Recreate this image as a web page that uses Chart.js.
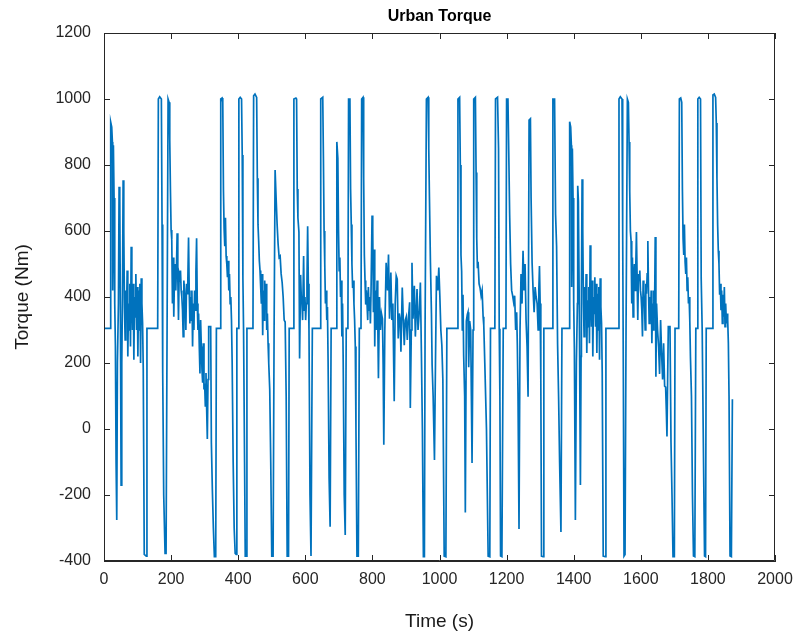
<!DOCTYPE html>
<html>
<head>
<meta charset="utf-8">
<title>Urban Torque</title>
<script src="https://cdn.jsdelivr.net/npm/chart.js@4.4.1/dist/chart.umd.min.js"></script>
<style>
  html, body { margin: 0; padding: 0; background: #fff; }
  #wrap { width: 799px; height: 639px; }
</style>
</head>
<body>
<div id="wrap"><canvas id="torqueChart" width="799" height="639"></canvas></div>
<script>
// time axis (s) and torque (Nm)
const timeSec = [
  0, 18, 20, 23, 25, 26, 28, 30, 32, 34,
  36, 38, 40, 43, 45, 47, 49, 51, 53, 55,
  57, 59, 61, 63, 65, 67, 69, 71, 73, 75,
  77, 79, 81, 83, 85, 87, 89, 91, 93, 95,
  97, 99, 101, 103, 105, 107, 109, 111, 113, 115,
  117, 120, 126, 128, 160, 162, 166, 171, 173, 175,
  178, 182, 185, 188, 191, 194, 196, 198, 200, 202,
  204, 206, 208, 210, 212, 214, 216, 218, 220, 222,
  224, 226, 228, 230, 232, 234, 236, 238, 240, 242,
  244, 246, 248, 250, 252, 254, 256, 258, 260, 262,
  264, 266, 268, 270, 272, 274, 276, 278, 280, 282,
  284, 286, 288, 290, 292, 294, 296, 298, 300, 302,
  304, 306, 308, 310, 312, 318, 320, 323, 326, 329,
  333, 335, 346, 348, 352, 354, 356, 358, 360, 362,
  364, 366, 368, 370, 372, 374, 376, 378, 380, 382,
  385, 388, 391, 394, 396, 400, 402, 406, 410, 412,
  414, 416, 419, 421, 424, 426, 444, 446, 450, 455,
  457, 459, 461, 463, 465, 467, 469, 471, 473, 475,
  477, 479, 481, 483, 485, 487, 489, 491, 494, 497,
  500, 504, 507, 510, 513, 516, 519, 522, 525, 528,
  531, 534, 537, 540, 543, 546, 550, 552, 564, 566,
  572, 574, 576, 578, 581, 583, 586, 588, 590, 592,
  595, 597, 599, 601, 603, 605, 607, 609, 611, 614,
  617, 619, 621, 644, 646, 652, 654, 656, 658, 660,
  662, 664, 666, 668, 671, 674, 677, 692, 694, 697,
  699, 701, 703, 705, 707, 709, 711, 713, 716, 719,
  722, 727, 729, 733, 735, 737, 739, 741, 743, 745,
  747, 749, 751, 754, 758, 761, 766, 768, 772, 774,
  776, 778, 780, 782, 784, 786, 788, 790, 792, 794,
  796, 799, 801, 803, 805, 807, 809, 811, 814, 816,
  818, 821, 824, 827, 830, 832, 834, 837, 841, 845,
  848, 851, 855, 858, 861, 865, 868, 871, 874, 877,
  880, 883, 885, 889, 892, 895, 898, 901, 904, 907,
  911, 913, 916, 918, 921, 925, 928, 933, 936, 940,
  943, 946, 949, 952, 955, 957, 959, 961, 966, 968,
  970, 973, 976, 978, 981, 985, 988, 991, 995, 998,
  1001, 1004, 1007, 1010, 1014, 1019, 1022, 1053, 1055, 1060,
  1062, 1064, 1066, 1068, 1070, 1072, 1075, 1077, 1080, 1083,
  1085, 1087, 1090, 1093, 1095, 1097, 1100, 1102, 1107, 1109,
  1111, 1113, 1115, 1118, 1121, 1124, 1127, 1130, 1132, 1135,
  1140, 1145, 1150, 1152, 1165, 1167, 1173, 1176, 1178, 1180,
  1182, 1186, 1190, 1198, 1200, 1204, 1207, 1209, 1212, 1215,
  1218, 1221, 1224, 1227, 1230, 1232, 1234, 1237, 1240, 1243,
  1246, 1249, 1252, 1255, 1258, 1261, 1264, 1267, 1271, 1273,
  1276, 1279, 1282, 1285, 1288, 1291, 1294, 1296, 1298, 1300,
  1302, 1304, 1309, 1311, 1336, 1338, 1343, 1346, 1349, 1352,
  1355, 1358, 1362, 1365, 1386, 1388, 1391, 1393, 1394, 1396,
  1398, 1400, 1402, 1404, 1405, 1408, 1411, 1412, 1414, 1417,
  1420, 1422, 1423, 1425, 1427, 1429, 1431, 1433, 1435, 1437,
  1439, 1441, 1443, 1445, 1447, 1449, 1451, 1453, 1455, 1457,
  1459, 1461, 1463, 1465, 1467, 1469, 1471, 1473, 1475, 1477,
  1479, 1481, 1483, 1485, 1488, 1494, 1496, 1533, 1535, 1539,
  1544, 1546, 1548, 1550, 1553, 1556, 1560, 1563, 1565, 1567,
  1569, 1571, 1573, 1575, 1577, 1579, 1581, 1583, 1585, 1587,
  1589, 1591, 1593, 1595, 1597, 1599, 1601, 1603, 1605, 1607,
  1609, 1611, 1613, 1615, 1617, 1619, 1621, 1623, 1625, 1627,
  1629, 1631, 1633, 1635, 1637, 1639, 1641, 1643, 1645, 1647,
  1650, 1653, 1656, 1659, 1662, 1665, 1668, 1671, 1674, 1676,
  1678, 1680, 1682, 1687, 1690, 1693, 1696, 1700, 1702, 1713,
  1715, 1719, 1722, 1724, 1726, 1728, 1730, 1732, 1734, 1736,
  1738, 1740, 1742, 1744, 1746, 1748, 1751, 1754, 1757, 1761,
  1764, 1768, 1770, 1774, 1778, 1780, 1783, 1786, 1790, 1793,
  1795, 1813, 1815, 1819, 1823, 1825, 1827, 1829, 1831, 1833,
  1835, 1837, 1839, 1841, 1843, 1845, 1847, 1849, 1851, 1853,
  1855, 1857, 1859, 1861, 1863, 1866, 1870, 1873
];

const torqueNm = [
  305, 305, 930, 915, 870, 420, 860, 700, 380, 250,
  -100, -276, 200, 380, 734, 700, 320, -170, 200, 400,
  754, 600, 370, 270, 420, 330, 480, 220, 380, 300,
  440, 250, 552, 420, 300, 440, 210, 400, 340, 470,
  300, 430, 220, 420, 300, 440, 200, 457, 380, 320,
  180, -380, -385, 305, 305, 1000, 1007, 1000, 620, 170,
  -200, -377, -377, 300, 1000, 990, 875, 724, 603, 573,
  380, 520, 340, 460, 500, 420, 490, 593, 460, 330,
  470, 460, 480, 420, 400, 360, 280, 450, 420, 380,
  300, 440, 410, 460, 580, 420, 320, 400, 330, 420,
  250, 380, 300, 420, 360, 478, 578, 380, 300, 350,
  250, 168, 330, 250, 180, 140, 260, 120, 138, 70,
  170, 60, -30, 150, 310, 310, -40, -185, -300, -387,
  -387, 305, 305, 1000, 1003, 990, 724, 607, 554, 640,
  524, 500, 460, 510, 420, 470, 380, 400, 330, 200,
  -100, -300, -377, -380, 305, 305, 1000, 1005, 1000, 830,
  457, 300, -100, -385, -385, 305, 305, 1010, 1015, 1005,
  760, 620, 570, 510, 480, 430, 380, 470, 284, 420,
  330, 450, 380, 440, 300, 350, 260, 200, 120, -100,
  -385, -385, 300, 785, 700, 620, 560, 520, 524, 470,
  444, 400, 330, 324, 100, -385, -385, 305, 305, 1000,
  1003, 1000, 727, 640, 597, 214, 467, 400, 380, 330,
  524, 360, 400, 330, 380, 450, 614, 440, 300, -200,
  -385, -385, 305, 305, 1000, 1005, 820, 600, 500, 380,
  420, 330, 370, 200, -150, -296, 305, 305, 870, 820,
  600, 480, 520, 400, 450, 280, 380, 200, -200, -321,
  305, 305, 1000, 1000, 727, 620, 500, 427, 450, 380,
  330, 250, 0, -385, -385, 305, 305, 1000, 1005, 760,
  527, 450, 377, 420, 380, 330, 430, 360, 400, 320,
  420, 647, 600, 354, 544, 250, 420, 300, 450, 330,
  154, 400, 300, 350, 334, 194, -48, 300, 504, 420,
  529, 334, 474, 330, 380, 84, 380, 464, 454, 274,
  350, 330, 234, 429, 334, 254, 330, 340, 270, 330,
  384, 64, 300, 504, 334, 434, 280, 424, 300, 360,
  444, 234, 0, -387, -387, 305, 305, 1000, 1005, 850,
  704, 504, 350, 194, 100, -94, 200, 464, 420, 489,
  404, 300, 254, 150, -385, -387, 305, 305, 1000, 1005,
  800, 527, 477, 300, 407, 224, 100, -253, 327, 347,
  354, 187, 327, 300, 100, -103, 300, 1000, 1005, 777,
  577, 487, 507, 440, 427, 404, 420, 340, 314, 200,
  0, -385, -387, 305, 305, 1000, 1005, 850, 304, 100,
  -385, -387, 305, 305, 1000, 1000, 800, 654, 500, 420,
  404, 384, 404, 300, 354, 254, 104, -303, 300, 470,
  380, 540, 420, 500, 330, 250, 98, 936, 940, 700,
  504, 420, 354, 430, 400, 380, 300, 420, 494, 380,
  150, -385, -387, 305, 305, 1000, 1000, 650, 554, 257,
  98, -100, -312, 305, 305, 931, 915, 860, 430, 850,
  700, 380, 240, -100, -276, 200, 380, 737, 690, 320,
  -170, 220, 420, 757, 600, 380, 280, 430, 330, 470,
  230, 390, 310, 430, 260, 557, 420, 310, 450, 220,
  400, 350, 460, 310, 440, 230, 410, 300, 430, 210,
  457, 370, 320, 170, -385, -387, 305, 305, 1000, 1007,
  1000, 600, 150, -385, -380, 300, 1000, 990, 870, 720,
  600, 570, 380, 520, 340, 460, 500, 420, 490, 597,
  460, 330, 470, 450, 480, 420, 400, 360, 280, 450,
  420, 380, 300, 440, 410, 470, 570, 420, 320, 400,
  330, 420, 260, 380, 300, 420, 360, 582, 158, 380,
  300, 250, 167, 330, 230, 150, 260, 130, 127, 60,
  -23, 150, 310, 310, -40, -200, -387, -387, 305, 305,
  1000, 1003, 990, 727, 577, 527, 620, 507, 470, 520,
  420, 460, 380, 400, 330, 217, 100, -200, -385, -387,
  305, 305, 1000, 1005, 1000, 457, 300, 0, -385, -387,
  305, 305, 1012, 1015, 1005, 927, 760, 620, 540, 500,
  407, 440, 360, 420, 320, 407, 340, 430, 310, 380,
  320, 350, 330, 260, 100, -385, -387, 90
];

const xTickValues = [0, 200, 400, 600, 800, 1000, 1200, 1400, 1600, 1800, 2000];
const yTickValues = [-400, -200, 0, 200, 400, 600, 800, 1000, 1200];
const chartTitle = 'Urban Torque';

if (timeSec.length !== torqueNm.length) {
  console.error('length mismatch', timeSec.length, torqueNm.length);
}

const axisColor = '#262626';
const lineColor = '#0072BD';
const fontFamily = '"Liberation Sans", Arial, Helvetica, sans-serif';

const points = timeSec.map((t, i) => ({ x: t, y: torqueNm[i] }));

// MATLAB-like box: title centred over the axes, top/right edges, inward ticks
const boxTicks = {
  id: 'boxTicks',
  afterDraw(chart) {
    const { ctx, chartArea: a, scales: { x, y } } = chart;
    const len = 6;
    ctx.save();
    ctx.strokeStyle = axisColor;
    ctx.lineWidth = 1;
    ctx.beginPath();
    ctx.rect(Math.round(a.left) + 0.5, Math.round(a.top) + 0.5,
             Math.round(a.right - a.left) - 1, Math.round(a.bottom - a.top) - 1);
    x.ticks.forEach(t => {
      const px = Math.round(x.getPixelForValue(t.value)) + 0.5;
      ctx.moveTo(px, a.bottom); ctx.lineTo(px, a.bottom - len);
      ctx.moveTo(px, a.top); ctx.lineTo(px, a.top + len);
    });
    y.ticks.forEach(t => {
      const py = Math.round(y.getPixelForValue(t.value)) + 0.5;
      ctx.moveTo(a.left, py); ctx.lineTo(a.left + len, py);
      ctx.moveTo(a.right, py); ctx.lineTo(a.right - len, py);
    });
    ctx.stroke();

    ctx.fillStyle = '#000';
    ctx.font = 'bold 16px ' + fontFamily;
    ctx.textAlign = 'center';
    ctx.textBaseline = 'middle';
    ctx.fillText(chartTitle, (a.left + a.right) / 2, 17);
    ctx.restore();
  }
};

new Chart(document.getElementById('torqueChart'), {
  type: 'line',
  data: {
    datasets: [{
      data: points,
      borderColor: lineColor,
      borderWidth: 1.7,
      pointRadius: 0,
      tension: 0,
      fill: false
    }]
  },
  options: {
    responsive: false,
    animation: false,
    devicePixelRatio: 1,
    layout: { padding: { left: 0, right: 24, top: 33, bottom: 0 } },
    plugins: {
      legend: { display: false },
      tooltip: { enabled: false },
      title: { display: false }
    },
    scales: {
      x: {
        type: 'linear',
        min: 0,
        max: 2000,
        afterBuildTicks: s => { s.ticks = xTickValues.map(v => ({ value: v })); },
        afterFit: s => { s.height = 78; s.paddingLeft = 0; s.paddingRight = 0; },
        grid: { display: false, drawTicks: false },
        border: { display: true, color: axisColor, width: 1 },
        ticks: { color: axisColor, padding: 9, maxRotation: 0, autoSkip: false,
                 callback: v => String(v),
                 font: { family: fontFamily, size: 16 } },
        title: { display: true, text: 'Time (s)', color: '#1a1a1a', padding: { top: 0, bottom: 6 },
                 font: { family: fontFamily, size: 19 } }
      },
      y: {
        type: 'linear',
        min: -400,
        max: 1200,
        afterBuildTicks: s => { s.ticks = yTickValues.map(v => ({ value: v })); },
        afterFit: s => { s.width = 104; s.paddingTop = 0; s.paddingBottom = 0; },
        grid: { display: false, drawTicks: false },
        border: { display: true, color: axisColor, width: 1 },
        ticks: { color: axisColor, padding: 13, autoSkip: false,
                 callback: v => String(v),
                 font: { family: fontFamily, size: 16 } },
        title: { display: true, text: 'Torque (Nm)', color: '#1a1a1a', padding: { top: 11, bottom: 0 },
                 font: { family: fontFamily, size: 19 } }
      }
    }
  },
  plugins: [boxTicks]
});
</script>
</body>
</html>
